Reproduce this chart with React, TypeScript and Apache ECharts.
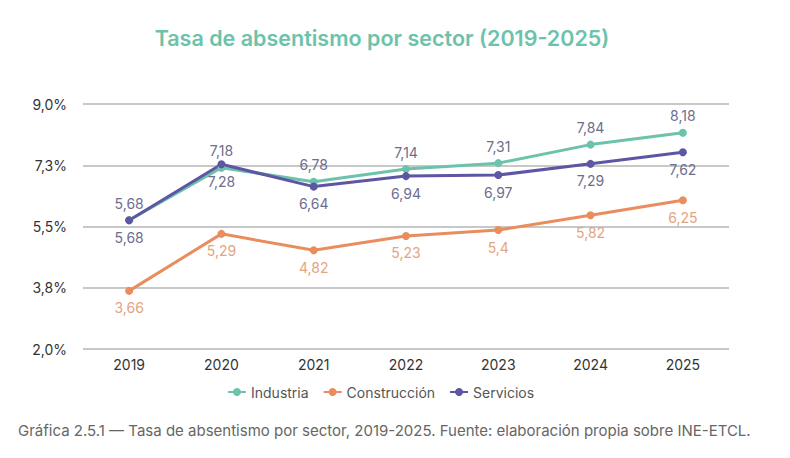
import React, { useEffect, useRef } from "react";
import * as echarts from "echarts";

const years = ["2019", "2020", "2021", "2022", "2023", "2024", "2025"];
const industria = [5.68, 7.18, 6.78, 7.14, 7.31, 7.84, 8.18];
const construccion = [3.66, 5.29, 4.82, 5.23, 5.4, 5.82, 6.25];
const servicios = [5.68, 7.28, 6.64, 6.94, 6.97, 7.29, 7.62];

const TEAL = "#6cc2aa";
const ORANGE = "#e98d5f";
const PURPLE = "#5c56a3";
const FONT = "Inter, 'Noto Sans', sans-serif";

const comma = (v: number) => String(v).replace(".", ",");

function lineSeries(name: string, data: number[], color: string, labelPos: string, labelColor: string) {
  return {
    name,
    type: "line",
    data,
    color,
    symbol: "circle",
    symbolSize: 8,
    lineStyle: { width: 3, color },
    itemStyle: { color },
    label: {
      show: true,
      position: labelPos,
      distance: 6,
      color: labelColor,
      fontSize: 14,
      fontFamily: FONT,
      formatter: (p: any) => comma(p.value),
    },
  };
}

export default function App() {
  const ref = useRef<HTMLDivElement>(null);

  useEffect(() => {
    if (!ref.current) return;
    const chart = echarts.init(ref.current, null, { renderer: "svg" });
    chart.setOption({
      animation: false,
      backgroundColor: "#ffffff",
      title: {
        text: "Tasa de absentismo por sector (2019-2025)",
        left: 377,
        textAlign: "center",
        top: 22,
        textStyle: { color: TEAL, fontSize: 21.5, fontWeight: 600, fontFamily: FONT },
      },
      grid: { left: 83, right: 61, top: 104, bottom: 109 },
      legend: {
        top: 380,
        left: 222,
        itemWidth: 18,
        itemHeight: 10,
        itemGap: 14,
        textStyle: { color: "#555", fontSize: 14, fontFamily: FONT },
        data: ["Industria", "Construcción", "Servicios"],
      },
      xAxis: {
        type: "category",
        data: years,
        axisLine: { show: false },
        axisTick: { show: false },
        axisLabel: { color: "#333", fontSize: 14, fontFamily: FONT, margin: 8 },
      },
      yAxis: {
        type: "value",
        min: 2,
        max: 9,
        interval: 1.75,
        axisLine: { show: false },
        axisTick: { show: false },
        splitLine: { lineStyle: { color: "#c8c8c8", width: 2 } },
        axisLabel: {
          color: "#333",
          fontSize: 14,
          fontFamily: FONT,
          margin: 16,
          formatter: (v: number) => v.toFixed(1).replace(".", ",") + "%",
        },
      },
      series: [
        lineSeries("Industria", industria, TEAL, "top", "#6e6e8e"),
        lineSeries("Construcción", construccion, ORANGE, "bottom", "#e3a47f"),
        lineSeries("Servicios", servicios, PURPLE, "bottom", "#6e6e8e"),
      ],
      graphic: [
        {
          type: "text",
          left: 18,
          top: 423,
          style: {
            text: "Gráfica 2.5.1 — Tasa de absentismo por sector, 2019-2025. Fuente: elaboración propia sobre INE-ETCL.",
            fill: "#666",
            fontSize: 15,
            fontFamily: FONT,
          },
        },
      ],
    });
    return () => chart.dispose();
  }, []);

  return <div ref={ref} style={{ width: 790, height: 458, position: "absolute", left: 0, top: 0 }} />;
}
